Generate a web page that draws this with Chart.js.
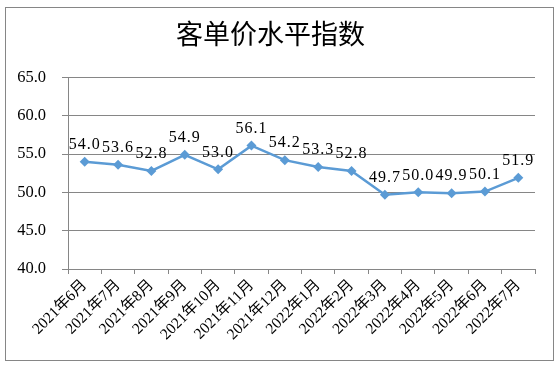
<!DOCTYPE html>
<html>
<head>
<meta charset="utf-8">
<script src="https://cdn.jsdelivr.net/npm/chart.js@4/dist/chart.umd.min.js"></script>
<style>
  html, body { margin: 0; padding: 0; background: #fff; }
  #wrap { position: relative; width: 560px; height: 369px; }
</style>
</head>
<body>
<div id="wrap"><canvas id="indexChart" width="560" height="369"></canvas></div>
<script>
// === DATA ===
const months = ['2021年6月', '2021年7月', '2021年8月', '2021年9月', '2021年10月', '2021年11月', '2021年12月',
    '2022年1月', '2022年2月', '2022年3月', '2022年4月', '2022年5月', '2022年6月', '2022年7月'];
const indexValues = [54.0, 53.6, 52.8, 54.9, 53.0, 56.1, 54.2, 53.3, 52.8, 49.7, 50.0, 49.9, 50.1, 51.9];
const yTicks = [40, 45, 50, 55, 60, 65];

const FONT = "'Liberation Serif', 'Noto Sans CJK SC', serif";
const LINE_COLOR = '#5B9BD5';
const GRID_COLOR = '#868686';

// value labels above each point
const valueLabels = {
    id: 'valueLabels',
    afterDatasetsDraw(chart) {
        const ctx = chart.ctx;
        const meta = chart.getDatasetMeta(0);
        ctx.save();
        ctx.font = '16px ' + FONT;
        ctx.fillStyle = '#000';
        ctx.textAlign = 'center';
        ctx.textBaseline = 'middle';
        ctx.letterSpacing = '1px';
        meta.data.forEach((pt, i) => {
            ctx.fillText(indexValues[i].toFixed(1), pt.x, pt.y - 17);
        });
        ctx.restore();
    }
};

// outer frame
const frame = {
    id: 'frame',
    afterDraw(chart) {
        const ctx = chart.ctx;
        ctx.save();
        ctx.strokeStyle = '#868686';
        ctx.lineWidth = 1;
        ctx.strokeRect(5.5, 7.5, 548, 353);
        ctx.restore();
    }
};

new Chart(document.getElementById('indexChart'), {
    type: 'line',
    data: {
        labels: months,
        datasets: [{
            label: '客单价水平指数',
            data: indexValues,
            borderColor: LINE_COLOR,
            backgroundColor: LINE_COLOR,
            borderWidth: 2.5,
            pointStyle: 'rectRot',
            pointRadius: 5,
            pointBorderWidth: 0,
            tension: 0
        }]
    },
    options: {
        responsive: false,
        animation: false,
        layout: { padding: { left: 6, right: 25, top: 0, bottom: 0 } },
        plugins: {
            legend: { display: false },
            tooltip: { enabled: false },
            title: {
                display: true,
                text: '客单价水平指数',
                color: '#000',
                font: { family: FONT, size: 27, weight: 'normal', lineHeight: 1.2 },
                padding: { top: 21, bottom: 24 }
            }
        },
        scales: {
            x: {
                offset: true,
                grid: { display: true, drawOnChartArea: false, offset: true, tickLength: 5, color: GRID_COLOR },
                border: { color: GRID_COLOR },
                ticks: {
                    color: '#000',
                    font: { family: FONT, size: 15.5 },
                    maxRotation: 45,
                    minRotation: 45,
                    autoSkip: false,
                    padding: 2
                },
                afterFit(scale) { scale.height = 100; }
            },
            y: {
                min: 40,
                max: 65,
                afterBuildTicks(scale) { scale.ticks = yTicks.map(v => ({ value: v })); },
                grid: { color: GRID_COLOR, tickLength: 6 },
                border: { color: GRID_COLOR },
                ticks: {
                    color: '#000',
                    font: { family: FONT, size: 16.5 },
                    padding: 16,
                    callback: v => v.toFixed(1)
                },
                afterFit(scale) { scale.width = 62; }
            }
        }
    },
    plugins: [valueLabels, frame]
});
</script>
</body>
</html>
